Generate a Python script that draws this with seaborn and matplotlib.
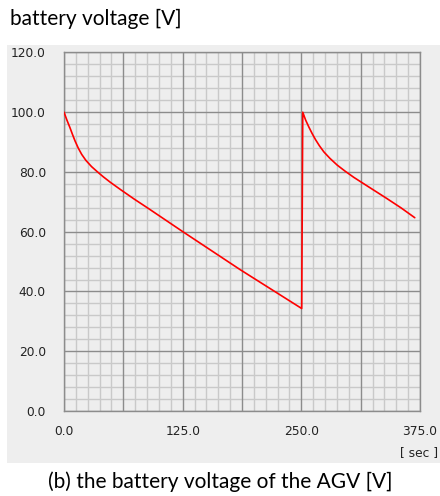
import matplotlib
matplotlib.use("Agg")
import matplotlib.pyplot as plt
from matplotlib.ticker import FixedLocator
import pandas as pd
import seaborn as sns

# ── Data ──────────────────────────────────────
time_sec = [0, 3, 6.3, 9, 11.6, 15, 18.6, 23, 29, 35, 41.3, 49, 60, 73.6, 89.3,
            124.3, 185.6, 250.4,
            251.5, 254.5, 258, 261.5, 265, 269, 273.8, 280, 287.8, 296, 305.3,
            320, 339.7, 355, 369.5]
voltage = [100, 97.4, 94.8, 92.5, 90.4, 88.0, 85.9, 83.9, 81.8, 80.1, 78.4, 76.5,
           74.0, 71.0, 67.7, 60.2, 47.3, 34.3,
           100, 97.4, 95.0, 92.8, 90.8, 88.8, 86.7, 84.6, 82.3, 80.3, 78.2,
           75.2, 71.2, 68.0, 64.7]
x_ticks = [0, 125, 250, 375]
y_ticks = [0, 20, 40, 60, 80, 100, 120]

df = pd.DataFrame({"t": time_sec, "v": voltage})

sns.set_style("white")
plt.rcParams["font.family"] = ["DejaVu Sans"]

fig = plt.figure(figsize=(4.4, 4.96), dpi=100)

# gray panel behind the chart
bg = fig.add_axes([0.016, 0.0665, 0.984, 0.8425], zorder=-1)
bg.set_facecolor("#eeeeee")
bg.set_xticks([])
bg.set_yticks([])
for s in bg.spines.values():
    s.set_visible(False)

ax = fig.add_axes([0.1455, 0.1714, 0.809, 0.7228])
ax.set_facecolor("#eeeeee")

sns.lineplot(data=df, x="t", y="v", ax=ax, color="#ff0000", linewidth=1.2,
             sort=False, estimator=None, zorder=5)

ax.set_xlim(0, 375)
ax.set_ylim(0, 120)
ax.xaxis.set_major_locator(FixedLocator(x_ticks))
ax.yaxis.set_major_locator(FixedLocator(y_ticks))
ax.set_xticklabels([f"{v:.1f}" for v in x_ticks])
ax.set_yticklabels([f"{v:.1f}" for v in y_ticks])

# grid: major every 62.5 s / 20 V, minor every 12.5 s / 4 V
for i in range(31):
    major = i % 5 == 0
    ax.axvline(i * 12.5, color="#8c8c8c" if major else "#c9c9c9",
               linewidth=1.0, zorder=2 if major else 1)
for v in range(0, 121, 4):
    major = v % 20 == 0
    ax.axhline(v, color="#8c8c8c" if major else "#c9c9c9",
               linewidth=1.0, zorder=2 if major else 1)

for s in ax.spines.values():
    s.set_color("#8c8c8c")
    s.set_linewidth(1.0)

ax.tick_params(axis="both", length=0, labelsize=8.8, colors="#222222")
ax.tick_params(axis="y", pad=13)
ax.tick_params(axis="x", pad=10)
ax.set_xlabel("")
ax.set_ylabel("")

fig.text(0.995, 0.088, "[ sec ]", fontsize=8.8, color="#222222",
         ha="right", va="center")

fig.text(0.023, 0.962, "battery voltage [V]", fontsize=15, family="Lato",
         ha="left", va="center", color="black")
fig.text(0.5, 0.028, "(b) the battery voltage of the AGV [V]", fontsize=15,
         family="Lato", ha="center", va="center", color="black")

fig.savefig("out.png", dpi=100)
